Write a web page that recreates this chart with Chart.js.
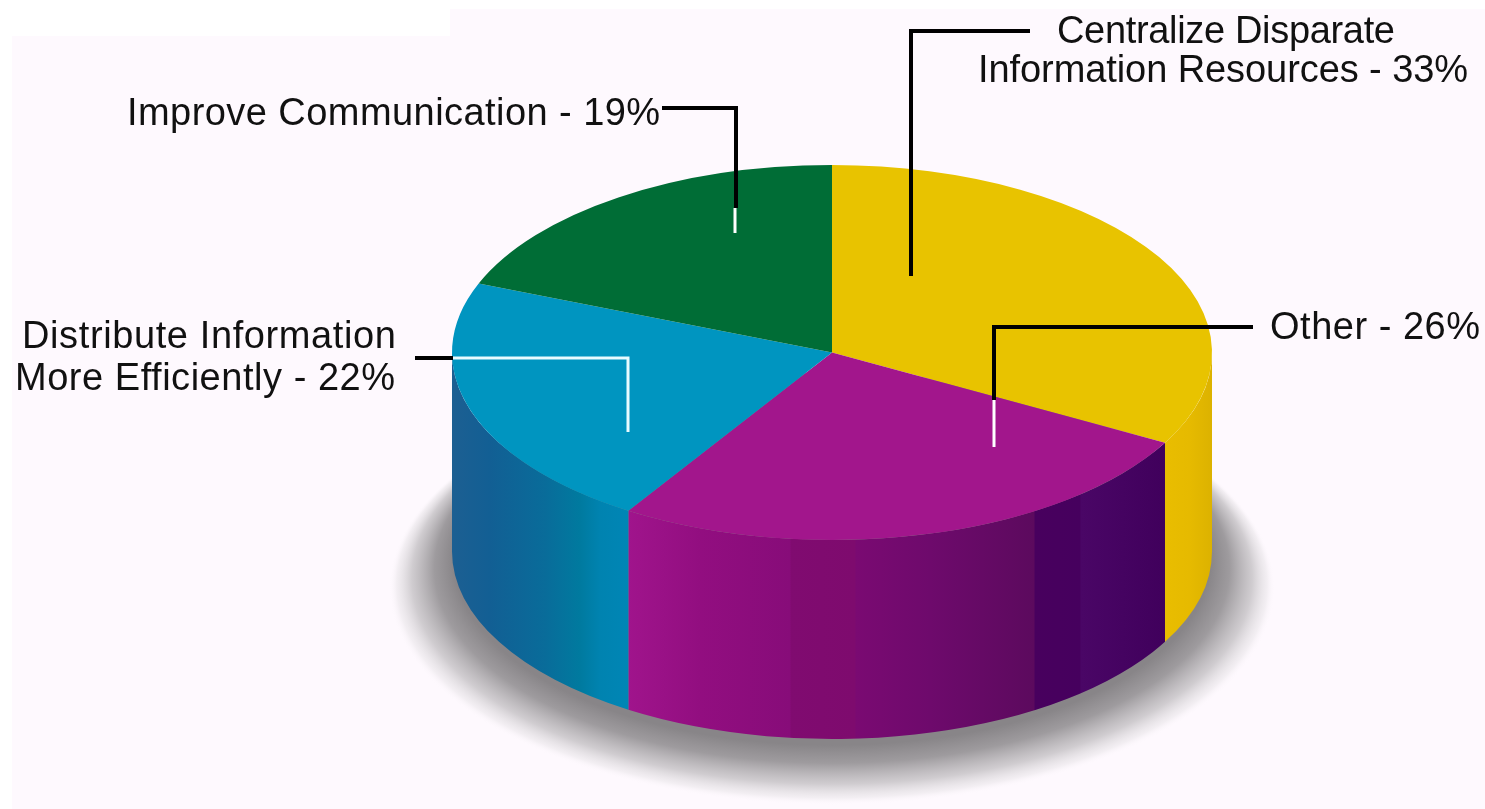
<!DOCTYPE html>
<html><head><meta charset="utf-8">
<script src="https://cdn.jsdelivr.net/npm/chart.js@4"></script>
<style>html,body{margin:0;padding:0;background:#fff}canvas{display:block}</style>
</head><body><canvas id="c" width="1485" height="809"></canvas>
<script>
const categories = ["Centralize Disparate Information Resources", "Other", "Distribute Information More Efficiently", "Improve Communication"];
const shares = [33, 26, 22, 19];
const topColours = ["#e8c300", "#a2168c", "#0095c0", "#006d36"];

// Presentation settings
const TOP_CY = 352.5, SQUASH = 187.5 / 380, DEPTH = 199;
const sideStops = [
  [[1165,"#e9bd00"],[1190,"#e6ba00"],[1212,"#dcb200"]],
  [[628,"#a0148c"],[700,"#920e80"],[790,"#870c79"],[791,"#800b70"],[855,"#7e0b6e"],[856,"#7a0a72"],[930,"#6e0a6c"],[1034,"#5c0a5e"],[1035,"#48005e"],[1080,"#46005e"],[1081,"#4a0666"],[1165,"#40005c"]],
  [[453,"#1c5f92"],[490,"#125f94"],[545,"#096c9a"],[580,"#007a9f"],[600,"#0083b0"],[640,"#0087b8"]],
  [[453,"#006d36"],[832,"#006d36"]]
];
const textLines = [
  {t:"Centralize Disparate", x0:1057, x1:1395, y:43},
  {t:"Information Resources - 33%", x0:978, x1:1468, y:82},
  {t:"Other - 26%", x0:1270, x1:1480, y:339},
  {t:"Improve Communication - 19%", x0:127, x1:660, y:125},
  {t:"Distribute Information", x0:22, x1:396, y:348},
  {t:"More Efficiently - 22%", x0:15, x1:395, y:390}
];
const leaders = [
  {c:"#000", w:4, p:[[1030,31],[911,31],[911,276]]},
  {c:"#000", w:4, p:[[1253,327],[994,327],[994,400]]},
  {c:"#fff", w:3, p:[[994,400],[994,447]]},
  {c:"#000", w:4, p:[[662,108],[736,108],[736,208]]},
  {c:"#fff", w:3, p:[[735,208],[735,233]]},
  {c:"#000", w:4, p:[[415,358],[453,358]]},
  {c:"#e8fbff", w:3, p:[[453,358],[628,358],[628,432]]}
];

const piePlugin = {
  id: "pie3d",
  beforeDraw(chart) {
    const ctx = chart.ctx;
    ctx.save();
    ctx.fillStyle = "#fff";
    ctx.fillRect(0, 0, chart.width, chart.height);
    ctx.fillStyle = "#fef9fe";
    ctx.fillRect(12, 36, chart.width, chart.height);
    ctx.fillRect(450, 9, chart.width, 30);
    ctx.restore();
  },
  beforeDatasetsDraw(chart) {
    const ctx = chart.ctx, arcs = chart.getDatasetMeta(0).data;
    const a0 = arcs[0], R = a0.outerRadius, cx = a0.x;
    // ground shadow: fades from the pie's base out to a larger, lower ellipse
    ctx.save();
    const k = 217 / 443;
    ctx.translate(cx, 0);
    ctx.scale(1, k);
    const g = ctx.createRadialGradient(0, 560 / k, 378, 0, 588 / k, 443);
    g.addColorStop(0, "rgba(136,133,136,1)");
    g.addColorStop(0.3, "rgba(150,147,150,0.92)");
    g.addColorStop(0.65, "rgba(190,187,190,0.72)");
    g.addColorStop(0.88, "rgba(225,222,225,0.4)");
    g.addColorStop(1, "rgba(254,249,254,0)");
    ctx.fillStyle = g;
    ctx.beginPath(); ctx.arc(0, 588 / k, 443, 0, Math.PI * 2); ctx.fill();
    ctx.restore();
    // extruded wall
    const ry = R * SQUASH;
    arcs.forEach((arc, i) => {
      const s = arc.startAngle, e = arc.endAngle;
      // visible part lies between canvas angles 0 and PI
      for (const off of [0, Math.PI * 2, -Math.PI * 2]) {
        const a1 = Math.max(s + off, 0), a2 = Math.min(e + off, Math.PI);
        if (a2 <= a1) continue;
        const stops = sideStops[i];
        const xa = stops[0][0], xb = stops[stops.length - 1][0];
        const lg = ctx.createLinearGradient(xa, 0, xb, 0);
        stops.forEach(st => lg.addColorStop((st[0] - xa) / (xb - xa), st[1]));
        ctx.beginPath();
        ctx.ellipse(cx, TOP_CY, R, ry, 0, a1, a2, false);
        ctx.ellipse(cx, TOP_CY + DEPTH, R, ry, 0, a2, a1, true);
        ctx.closePath();
        ctx.fillStyle = lg;
        ctx.fill();
      }
    });
    // squash the library's round pie into the top face
    ctx.save();
    ctx.translate(0, TOP_CY);
    ctx.scale(1, SQUASH);
    ctx.translate(0, -a0.y);
  },
  afterDatasetsDraw(chart) {
    const ctx = chart.ctx;
    ctx.restore();
    ctx.save();
    ctx.lineCap = "butt"; ctx.lineJoin = "miter";
    leaders.forEach(l => {
      ctx.strokeStyle = l.c; ctx.lineWidth = l.w;
      ctx.beginPath();
      l.p.forEach((p, i) => i ? ctx.lineTo(p[0], p[1]) : ctx.moveTo(p[0], p[1]));
      ctx.stroke();
    });
    ctx.fillStyle = "#111";
    ctx.font = '38px "Liberation Sans", Arial, sans-serif';
    ctx.textAlign = "left"; ctx.textBaseline = "alphabetic";
    textLines.forEach(l => {
      ctx.letterSpacing = "0px";
      const w = ctx.measureText(l.t).width;
      ctx.letterSpacing = ((l.x1 - l.x0 - w) / (l.t.length - 1)).toFixed(2) + "px";
      ctx.fillText(l.t, l.x0, l.y);
    });
    ctx.restore();
  }
};

new Chart(document.getElementById("c"), {
  type: "pie",
  data: {
    labels: categories,
    datasets: [{ data: shares, backgroundColor: topColours, borderWidth: 0, hoverOffset: 0 }]
  },
  options: {
    responsive: false,
    animation: false,
    events: [],
    rotation: 0,
    layout: { padding: { left: 452, right: 273, top: 24, bottom: 25 } },
    plugins: { legend: { display: false }, tooltip: { enabled: false }, title: { display: false } }
  },
  plugins: [piePlugin]
});
</script></body></html>
